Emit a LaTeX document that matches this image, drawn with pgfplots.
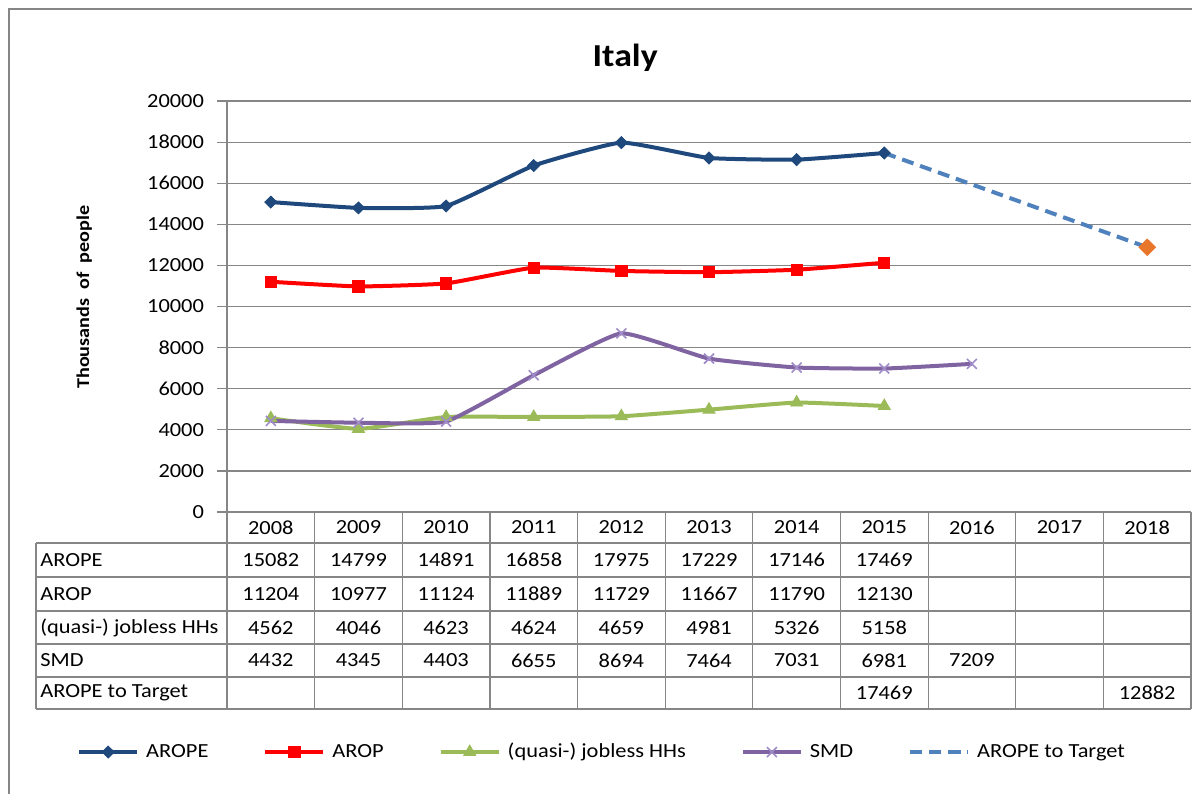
\documentclass[border=0pt]{standalone}
\usepackage{fontspec}
\setmainfont{Carlito}[FakeStretch=1.12]
\usepackage{pgfplots}
\pgfplotsset{compat=1.18}
\definecolor{arope}{RGB}{31,73,125}
\definecolor{arop}{RGB}{255,0,0}
\definecolor{jobgreen}{RGB}{155,187,89}
\definecolor{smdpurple}{RGB}{128,100,162}
\definecolor{smdlight}{RGB}{160,140,200}
\definecolor{targetblue}{RGB}{79,129,189}
\definecolor{targetorange}{RGB}{232,118,43}
\definecolor{gridgray}{RGB}{134,134,134}
\newcommand{\lab}{\fontsize{10}{12}\selectfont}
\begin{document}
\begin{tikzpicture}
\useasboundingbox (0,0) rectangle (596pt,397pt);
\begin{axis}[
  at={(113.5pt,141pt)}, anchor=south west,
  scale only axis, width=482pt, height=205.5pt,
  xmin=-0.5, xmax=10.5, ymin=0, ymax=20000,
  axis x line=bottom, axis y line=left,
  axis line style={draw=gridgray, line width=0.6pt, -},
  ytick={0,2000,...,20000}, scaled y ticks=false,
  ymajorgrids, grid style={gridgray, line width=0.6pt},
  tick align=outside, major tick length=5pt,
  ytick style={gridgray, line width=0.6pt},
  yticklabel style={font=\lab, text=black, xshift=-3pt, /pgf/number format/fixed},
  /pgf/number format/1000 sep={}, /pgf/number format/assume math mode=true,
  xtick={0,...,10},
  xticklabels={2008,2009,2010,2011,2012,2013,2014,2015,2016,2017,2018},
  xtick style={draw=none},
  xticklabel style={font=\lab, text=black, anchor=center, yshift=-2.75pt},
  ylabel={Thousands\ \ of\ \ people},
  ylabel style={font=\bfseries\fontsize{9}{11}\selectfont, at={(axis description cs:-0.148,0.523)}, anchor=center},
  title={Italy},
  title style={font=\bfseries\fontsize{16}{19}\selectfont, at={(axis description cs:0.413,1.075)}, anchor=center},
  every axis plot/.append style={line width=2pt, smooth, tension=0.25},
  legend image code/.code={\draw[mark repeat=2,mark phase=2] plot coordinates {(0pt,0pt)(14.5pt,0pt)(29pt,0pt)};},
  legend columns=5,
  legend style={at={(axis description cs:0.388,-0.584)}, anchor=center, draw=none,
    font=\lab, nodes={inner sep=0pt, text=black},
    /tikz/every odd column/.append style={column sep=3.5pt},
    /tikz/every even column/.append style={column sep=27.5pt}},
]
\addplot[color=arope, mark=diamond*, mark size=3pt, mark options={solid, line width=0.4pt, xscale=1.35}]
  coordinates {(0,15082)(1,14799)(2,14891)(3,16858)(4,17975)(5,17229)(6,17146)(7,17469)};
\addlegendentry{AROPE}
\addplot[color=arop, mark=square*, mark size=2.8pt, mark options={solid, line width=0.4pt}]
  coordinates {(0,11204)(1,10977)(2,11124)(3,11889)(4,11729)(5,11667)(6,11790)(7,12130)};
\addlegendentry{AROP}
\addplot[color=jobgreen, mark=triangle*, mark size=3.5pt, mark options={solid, line width=0.4pt}]
  coordinates {(0,4562)(1,4046)(2,4623)(3,4624)(4,4659)(5,4981)(6,5326)(7,5158)};
\addlegendentry{(quasi-) jobless HHs}
\addplot[color=smdpurple, mark=x, mark size=3.5pt, mark options={solid, draw=smdlight, line width=0.8pt}]
  coordinates {(0,4432)(1,4345)(2,4403)(3,6655)(4,8694)(5,7464)(6,7031)(7,6981)(8,7209)};
\addlegendentry{SMD}
\addplot[color=targetblue, dash pattern=on 6pt off 3.5pt, no marks]
  coordinates {(7,17469)(10,12882)};
\addlegendentry{AROPE to Target}
\addplot[forget plot, only marks, color=targetorange, mark=diamond*, mark size=3pt, mark options={xscale=1.35}]
  coordinates {(10,12882)};
\end{axis}
\begin{scope}[x=0.5pt, y=-0.5pt, shift={(0pt,397pt)}]
  % outer frame (left and top)
  \draw[gridgray, line width=0.6pt] (9,794) -- (9,9) -- (1192,9);
  % data table grid
  \foreach \y in {543,577,611,644,677,709} \draw[gridgray, line width=0.6pt] (36,\y) -- (1191,\y);
  \draw[gridgray, line width=0.6pt] (36,543) -- (36,709);
  \foreach \k in {0,...,11} \draw[gridgray, line width=0.6pt] ({227+87.636*\k},512) -- ({227+87.636*\k},709);
  % row labels and values
  \begin{scope}[every node/.style={font=\lab, inner sep=0pt}]
  \node[anchor=west] at (40,560) {AROPE};
  \node[anchor=west] at (40,594) {AROP};
  \node[anchor=west] at (40,627.5) {(quasi-) jobless HHs};
  \node[anchor=west] at (40,660.5) {SMD};
  \node[anchor=west] at (40,693) {AROPE to Target};
  \foreach \v [count=\i from 0] in {15082,14799,14891,16858,17975,17229,17146,17469}
    \node at ({227+87.636*(\i+0.5)},560) {\v};
  \foreach \v [count=\i from 0] in {11204,10977,11124,11889,11729,11667,11790,12130}
    \node at ({227+87.636*(\i+0.5)},594) {\v};
  \foreach \v [count=\i from 0] in {4562,4046,4623,4624,4659,4981,5326,5158}
    \node at ({227+87.636*(\i+0.5)},627.5) {\v};
  \foreach \v [count=\i from 0] in {4432,4345,4403,6655,8694,7464,7031,6981,7209}
    \node at ({227+87.636*(\i+0.5)},660.5) {\v};
  \node at ({227+87.636*7.5},693) {17469};
  \node at ({227+87.636*10.5},693) {12882};
  \end{scope}
\end{scope}
\end{tikzpicture}
\end{document}
